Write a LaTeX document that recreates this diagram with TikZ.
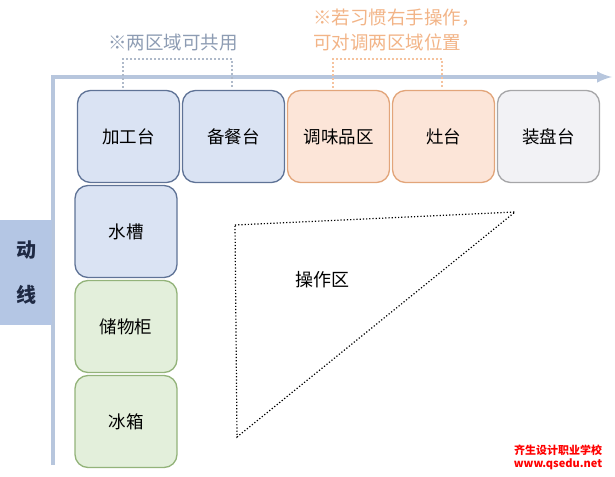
\documentclass[tikz,border=0pt]{standalone}
\usepackage{fontspec}
\setmainfont{Noto Sans CJK SC}
\usepackage{tikz}
\usepackage{xcolor}
\usetikzlibrary{positioning, arrows}

\definecolor{axisblue}{HTML}{B7C6DD}
\definecolor{lineFill}{HTML}{B4C6E4}
\definecolor{lineText}{HTML}{1F2A44}
\definecolor{blueFill}{HTML}{DAE3F3}
\definecolor{blueLine}{HTML}{5F7396}
\definecolor{orangeFill}{HTML}{FCE5D8}
\definecolor{orangeLine}{HTML}{E2A57A}
\definecolor{greyFill}{HTML}{F2F2F5}
\definecolor{greyLine}{HTML}{A6A6A8}
\definecolor{greenFill}{HTML}{E3EFDB}
\definecolor{greenLine}{HTML}{93B37A}
\definecolor{noteBlue}{HTML}{8D9CB3}
\definecolor{noteOrange}{HTML}{F2B487}

\tikzset{
  zone/.style={rectangle, rounded corners=13pt, line width=1.3pt,
    minimum width=102pt, minimum height=92pt, inner sep=0pt, outer sep=0pt,
    font=\fontsize{17.5}{20}\selectfont},
  bluezone/.style={zone, draw=blueLine, fill=blueFill},
  orangezone/.style={zone, draw=orangeLine, fill=orangeFill},
  greyzone/.style={zone, draw=greyLine, fill=greyFill},
  greenzone/.style={zone, draw=greenLine, fill=greenFill},
  note/.style={font=\fontsize{18.5}{24}\selectfont, inner sep=0pt}
}

\begin{document}
\begin{tikzpicture}[x=1pt, y=-1pt, node distance = 3pt]
        \useasboundingbox (0,0) rectangle (615,476);

        % moving line
        \draw[axisblue, line width=4pt] (53,465) -- (53,77);
        \draw[axisblue, line width=4pt, -latex] (51,77) -- (612,77);
        \node[fill=lineFill, text=lineText, minimum width=52pt, minimum height=105pt,
              inner sep=0pt, anchor=north west, font=\fontsize{20}{45}\selectfont\bfseries,
              align=center] (line) at (0,220) {动\\线};

        % work zones
        \node[bluezone] (1) at (128.5,136.5) {加工台};
        \node[bluezone] (2) [right = of 1] {备餐台};
        \node[orangezone] (3) [right = of 2] {调味品区};
        \node[orangezone] (4) [right = of 3] {灶台};
        \node[greyzone] (5) [right = of 4] {装盘台};

        \node[bluezone] (6) [below = of 1, xshift=-2.5pt] {水槽};
        \node[greenzone] (7) [below = of 6] {储物柜};
        \node[greenzone] (8) [below = of 7] {冰箱};

        % operation area
        \coordinate (t1) at (235,225);
        \coordinate (t2) at (515,212);
        \coordinate (t3) at (237,437);
        \draw[dotted, line width=1.2pt] (t1) -- (t2) -- (t3) -- cycle;
        \node[font=\fontsize{18}{20}\selectfont] (op) at (322,280) {操作区};

        % notes
        \coordinate (a1) at (123,88);
        \coordinate (a2) at (232,88);
        \draw[noteBlue!70, line width=1.3pt, dash pattern=on 2pt off 2pt]
              (a1) -- (123,59) -- (232,59) -- (a2);
        \node[note, text=noteBlue] (shared) at (173,43) {※两区域可共用};

        \coordinate (b1) at (333,88);
        \coordinate (b2) at (442,88);
        \draw[noteOrange!80, line width=1.3pt, dash pattern=on 2pt off 2pt]
              (b1) -- (333,59) -- (442,59) -- (b2);
        \node[note, text=noteOrange, anchor=west] (swap1) at (313,18) {※若习惯右手操作，};
        \node[note, text=noteOrange, anchor=west] (swap2) at (313,42) {可对调两区域位置};

        % mark
        \node[text=red, font=\fontsize{11}{13}\selectfont\bfseries, align=center,
              inner sep=0pt] (mark) at (558,457) {齐生设计职业学校\\www.qsedu.net};
\end{tikzpicture}
\end{document}
